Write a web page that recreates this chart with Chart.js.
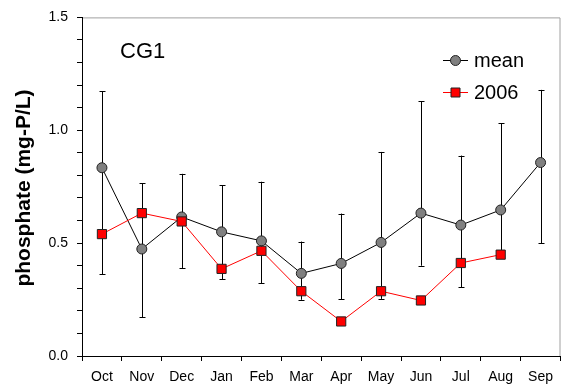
<!DOCTYPE html>
<html>
<head>
<meta charset="utf-8">
<script src="https://cdn.jsdelivr.net/npm/chart.js@4.4.0/dist/chart.umd.min.js"></script>
<style>
  html, body { margin: 0; padding: 0; background: #fff; }
  #wrap { width: 568px; height: 388px; }
</style>
</head>
<body>
<div id="wrap"><canvas id="phosChart" width="568" height="388"></canvas></div>
<script>
const months = ['Oct', 'Nov', 'Dec', 'Jan', 'Feb', 'Mar', 'Apr', 'May', 'Jun', 'Jul', 'Aug', 'Sep'];
const meanValues = [0.834, 0.474, 0.616, 0.550, 0.510, 0.366, 0.410, 0.503, 0.633, 0.580, 0.647, 0.857];
const meanUpper = [1.172, 0.765, 0.807, 0.756, 0.772, 0.507, 0.631, 0.904, 1.128, 0.888, 1.032, 1.179];
const meanLower = [0.363, 0.172, 0.390, 0.341, 0.322, 0.249, 0.251, 0.253, 0.400, 0.305, 0.440, 0.499];
const values2006 = [0.540, 0.633, 0.596, 0.386, 0.466, 0.287, 0.153, 0.287, 0.246, 0.412, 0.449, null];
const yLabels = [0, 0.5, 1.0, 1.5];

const FONT = 'Liberation Sans, Arial, sans-serif';

// error bars for the mean series, drawn under the markers
const errorBars = {
  id: 'errorBars',
  beforeDatasetsDraw(chart) {
    const ctx = chart.ctx;
    const x = chart.scales.x, y = chart.scales.y;
    ctx.save();
    ctx.strokeStyle = '#000';
    ctx.lineWidth = 1;
    months.forEach(function (m, i) {
      const px = Math.round(x.getPixelForValue(i)) + 0.5;
      const top = y.getPixelForValue(meanUpper[i]);
      const bot = y.getPixelForValue(meanLower[i]);
      ctx.beginPath();
      ctx.moveTo(px, top); ctx.lineTo(px, bot);
      ctx.moveTo(px - 3, Math.round(top) + 0.5); ctx.lineTo(px + 3, Math.round(top) + 0.5);
      ctx.moveTo(px - 3, Math.round(bot) + 0.5); ctx.lineTo(px + 3, Math.round(bot) + 0.5);
      ctx.stroke();
    });
    ctx.restore();
  }
};

// frame, titles and legend
const decorations = {
  id: 'decorations',
  beforeDraw(chart) {
    const a = chart.chartArea, ctx = chart.ctx;
    ctx.save();
    ctx.strokeStyle = '#a0a0a0';
    ctx.lineWidth = 1;
    ctx.beginPath();
    ctx.moveTo(a.left, a.top + 0.5);
    ctx.lineTo(a.right - 0.5, a.top + 0.5);
    ctx.lineTo(a.right - 0.5, a.bottom);
    ctx.stroke();
    ctx.restore();
  },
  afterDraw(chart) {
    const ctx = chart.ctx;
    ctx.save();
    ctx.fillStyle = '#000';
    // y axis title
    ctx.save();
    ctx.translate(24, 188);
    ctx.rotate(-Math.PI / 2);
    ctx.font = 'bold 21px ' + FONT;
    ctx.textAlign = 'center';
    ctx.textBaseline = 'middle';
    ctx.fillText('phosphate (mg-P/L)', 0, 0);
    ctx.restore();
    // panel label
    ctx.font = '22px ' + FONT;
    ctx.textAlign = 'left';
    ctx.textBaseline = 'alphabetic';
    ctx.fillText('CG1', 120, 58);
    // legend
    const rows = [
      { label: 'mean', y: 60, line: '#000', fill: '#808080', style: 'circle' },
      { label: '2006', y: 92, line: '#ff0000', fill: '#ff0000', style: 'rect' }
    ];
    rows.forEach(function (r) {
      ctx.strokeStyle = r.line;
      ctx.lineWidth = 1;
      ctx.beginPath();
      ctx.moveTo(443, r.y + 0.5); ctx.lineTo(468, r.y + 0.5);
      ctx.stroke();
      ctx.fillStyle = r.fill;
      ctx.strokeStyle = '#222';
      ctx.beginPath();
      if (r.style === 'circle') ctx.arc(455.5, r.y + 0.5, 5, 0, Math.PI * 2);
      else ctx.rect(451, r.y - 4, 9, 9);
      ctx.fill();
      ctx.stroke();
      ctx.fillStyle = '#000';
      ctx.font = '20px ' + FONT;
      ctx.textBaseline = 'middle';
      ctx.fillText(r.label, 474, r.y + 1);
    });
    ctx.restore();
  }
};

const chart = new Chart(document.getElementById('phosChart'), {
  type: 'line',
  data: {
    labels: months,
    datasets: [
      {
        label: '2006',
        data: values2006,
        borderColor: '#ff0000',
        borderWidth: 1,
        backgroundColor: '#ff0000',
        pointStyle: 'rect',
        pointRadius: 6.5,
        pointBorderColor: '#222',
        pointBorderWidth: 1,
        spanGaps: false,
        tension: 0
      },
      {
        label: 'mean',
        data: meanValues,
        borderColor: '#000',
        borderWidth: 1,
        backgroundColor: '#808080',
        pointStyle: 'circle',
        pointRadius: 5,
        pointBorderColor: '#222',
        pointBorderWidth: 1,
        tension: 0
      }
    ]
  },
  options: {
    responsive: false,
    animation: false,
    layout: { padding: { top: 15, right: 3, left: 0, bottom: 0 } },
    plugins: {
      legend: { display: false },
      tooltip: { enabled: false }
    },
    scales: {
      x: {
        offset: true,
        grid: { display: true, drawOnChartArea: false, offset: true, tickLength: 5, color: '#000' },
        border: { color: '#000', width: 1 },
        ticks: { color: '#000', font: { family: FONT, size: 14 }, padding: 8, maxRotation: 0 },
        afterFit(scale) { scale.height = 32; }
      },
      y: {
        min: 0,
        max: 1.5,
        grid: { display: true, drawOnChartArea: false, tickLength: 5, color: '#000' },
        border: { color: '#000', width: 1 },
        ticks: {
          stepSize: 0.1,
          autoSkip: false,
          color: '#000',
          font: { family: FONT, size: 14 },
          padding: 9,
          callback: function (value) {
            const v = Math.round(value * 10) / 10;
            return yLabels.some(l => Math.abs(l - v) < 1e-6) ? v.toFixed(1) : '';
          }
        },
        afterFit(scale) { scale.width = 82; }
      }
    }
  },
  plugins: [errorBars, decorations]
});
</script>
</body>
</html>
